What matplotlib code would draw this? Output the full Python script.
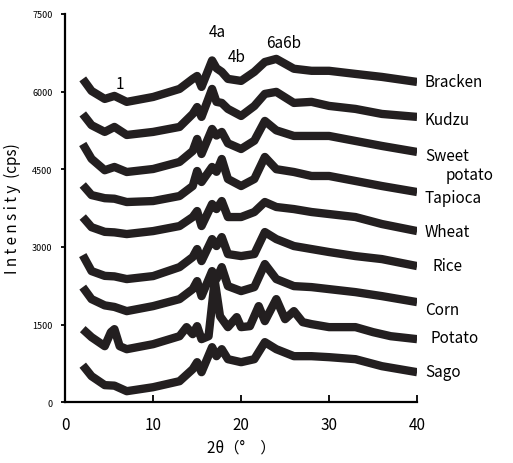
import matplotlib.pyplot as plt

plt.rcParams['font.family'] = ['Noto Sans CJK JP', 'DejaVu Sans']

# 2theta positions (deg)
two_theta = [2, 3, 4.5, 5.6, 7, 10, 13, 14.5, 15, 15.5, 16.7, 17.2, 17.8, 18.5,
             20, 21.5, 22.7, 24, 26, 28, 30, 33, 36, 40]
two_theta_potato = [2, 3, 4.5, 5.2, 5.6, 6.2, 7, 10, 13, 13.8, 14.5, 15, 15.5, 16.3,
                    17, 17.6, 18.5, 19.5, 20, 21, 22, 22.7, 24, 25, 26, 27, 28, 30,
                    33, 35, 37, 40]

# intensities (cps), stacked as in the figure
bracken = [6244, 6011, 5857, 5915, 5800, 5895, 6050, 6244, 6300, 6089, 6600, 6450,
           6380, 6244, 6205, 6380, 6570, 6630, 6440, 6400, 6400, 6340, 6282, 6185]
kudzu = [5567, 5350, 5220, 5316, 5161, 5220, 5316, 5567, 5700, 5510, 6050, 5800,
         5780, 5664, 5528, 5720, 5954, 5993, 5780, 5800, 5722, 5664, 5567, 5510]
sweet_potato = [4987, 4700, 4480, 4543, 4446, 4504, 4640, 4852, 5084, 4794, 5277, 5150,
                5219, 5000, 4890, 5050, 5432, 5250, 5142, 5142, 5142, 5045, 4949, 4833]
tapioca = [4195, 4000, 3940, 3930, 3866, 3885, 3982, 4175, 4465, 4253, 4543, 4450,
           4697, 4310, 4175, 4310, 4736, 4500, 4446, 4369, 4369, 4272, 4175, 4059]
wheat = [3576, 3380, 3290, 3280, 3247, 3305, 3402, 3576, 3692, 3402, 3827, 3730,
         3885, 3576, 3576, 3673, 3866, 3770, 3730, 3673, 3634, 3576, 3441, 3305]
rice = [2841, 2532, 2440, 2430, 2378, 2436, 2609, 2803, 2958, 2725, 3150, 3016,
        3189, 2861, 2822, 2861, 3286, 3150, 3016, 2958, 2900, 2822, 2764, 2629]
corn = [2223, 1991, 1870, 1840, 1759, 1856, 1991, 2184, 2339, 2049, 2532, 2378,
        2609, 2242, 2146, 2223, 2668, 2378, 2242, 2223, 2184, 2126, 2049, 1933]
potato = [1411, 1256, 1082, 1353, 1411, 1082, 1024, 1121, 1275, 1450, 1314, 1469,
          1218, 1275, 2350, 1662, 1450, 1643, 1450, 1469, 1856, 1566, 1991, 1604,
          1759, 1546, 1508, 1450, 1450, 1353, 1275, 1218]
sago = [715, 503, 330, 320, 213, 290, 406, 638, 773, 580, 1063, 889,
        1024, 831, 773, 831, 1160, 1024, 889, 889, 870, 831, 696, 580]

# series labels at the right and their positions
names = ["Bracken", "Kudzu", "Sweet", "potato", "Tapioca", "Wheat", "Rice", "Corn", "Potato", "Sago"]
name_x = [40.9, 40.9, 40.9, 43.2, 40.9, 40.9, 41.7, 40.9, 41.5, 40.9]
name_y = [6185, 5451, 4774, 4388, 3963, 3305, 2648, 1798, 1256, 599]

peak_labels = ["1", "4a", "4b", "6a6b"]
peak_x = [6.2, 17.3, 19.5, 24.8]
peak_y = [6147, 7152, 6670, 6940]

fig = plt.figure(figsize=(5.13, 4.64), dpi=100)
ax = fig.add_axes([0.127, 0.131, 0.686, 0.837])

for y in [bracken, kudzu, sweet_potato, tapioca, wheat, rice, corn, sago]:
    ax.plot(two_theta, y, color='#231f20', lw=6, solid_joinstyle='round', solid_capstyle='butt')
ax.plot(two_theta_potato, potato, color='#231f20', lw=6, solid_joinstyle='round', solid_capstyle='butt')

for n, x, y in zip(names, name_x, name_y):
    ax.text(x, y, n, fontsize=11, va='center', ha='left', clip_on=False)
for n, x, y in zip(peak_labels, peak_x, peak_y):
    ax.text(x, y, n, fontsize=11, va='center', ha='center')

ax.set_xlim(0, 40)
ax.set_ylim(0, 7500)
ax.set_xticks([0, 10, 20, 30, 40])
ax.set_yticks([0, 1500, 3000, 4500, 6000, 7500])
ax.spines['top'].set_visible(False)
ax.spines['right'].set_visible(False)
ax.spines['left'].set_linewidth(1.6)
ax.spines['bottom'].set_linewidth(1.6)
ax.tick_params(axis='x', direction='in', length=5, width=1.3, labelsize=11, pad=10)
ax.tick_params(axis='y', direction='out', length=3, width=1.3, labelsize=6.5, pad=6)
ax.set_xlabel("2θ（°　）", fontsize=11, labelpad=4)
ax.set_ylabel("I n t e n s i t y  (cps)", fontsize=11, labelpad=8)

fig.savefig("out.png", dpi=100)
